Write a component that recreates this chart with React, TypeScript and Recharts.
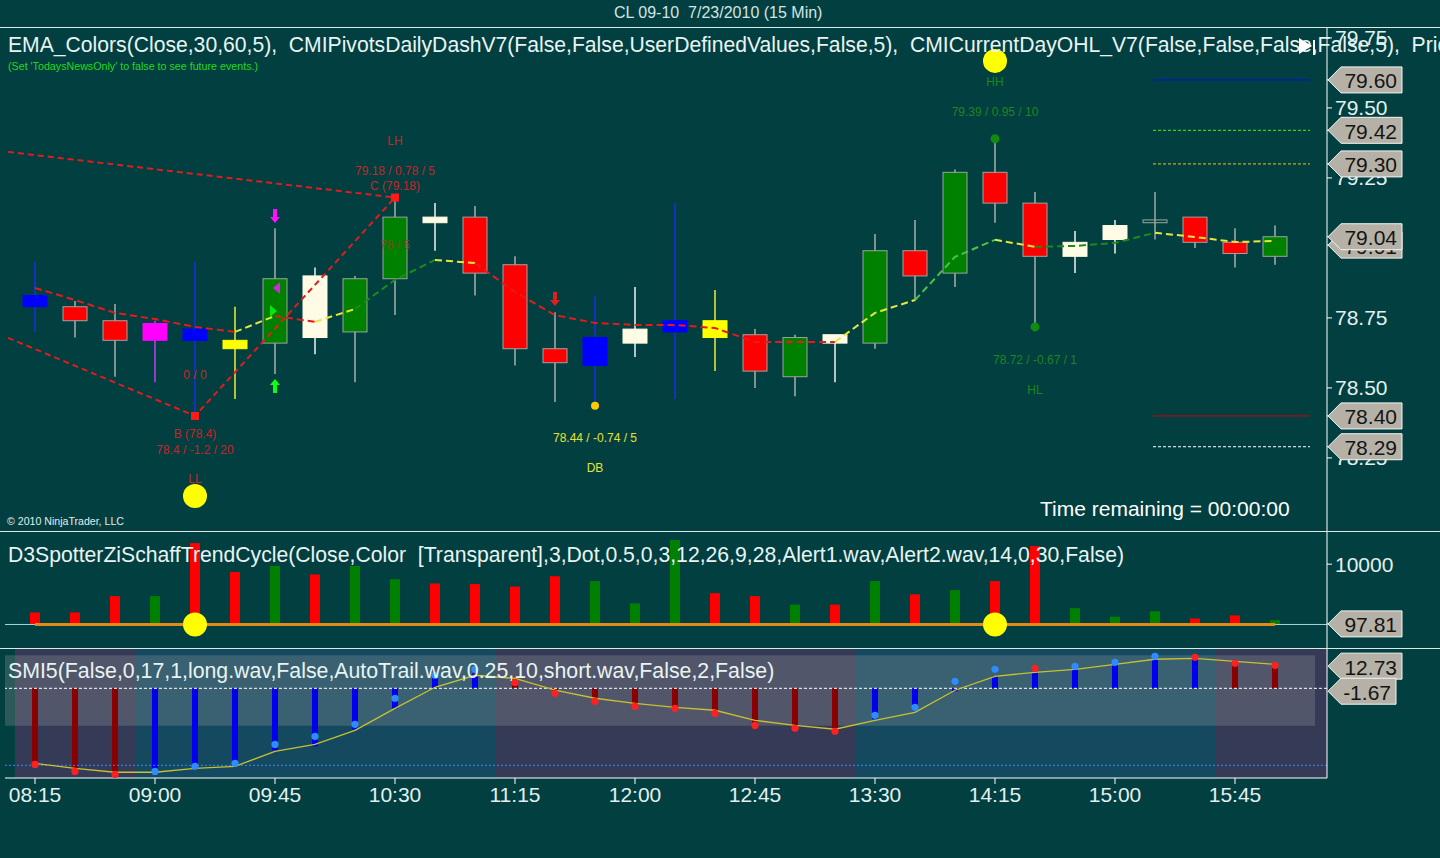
import React from 'react'
import {
  ComposedChart, Bar, Line, Scatter, XAxis, YAxis,
  ReferenceLine, ReferenceArea, Cell,
} from 'recharts'

const BG = '#023f40'
const FONT = '"Liberation Sans", Arial, sans-serif'
const AXIS_TEXT = '#e2f0f0'
const RULE = '#dde8e8'

// 15 minute bars, 7/23/2010
const times = [
  '08:15', '08:30', '08:45', '09:00', '09:15', '09:30', '09:45', '10:00',
  '10:15', '10:30', '10:45', '11:00', '11:15', '11:30', '11:45', '12:00',
  '12:15', '12:30', '12:45', '13:00', '13:15', '13:30', '13:45', '14:00',
  '14:15', '14:30', '14:45', '15:00', '15:15', '15:30', '15:45', '16:00',
]

const open = [
  78.83, 78.79, 78.74, 78.73, 78.71, 78.67, 78.66, 78.68, 78.70, 78.89, 79.09,
  79.11, 78.94, 78.64, 78.58, 78.66, 78.70, 78.74, 78.69, 78.54, 78.66, 78.66,
  78.99, 78.91, 79.27, 79.16, 78.97, 79.03, 79.09, 79.11, 79.02, 78.97,
]
const high = [
  78.95, 78.81, 78.80, 78.74, 78.95, 78.79, 79.07, 78.93, 78.90, 79.18, 79.16,
  79.15, 78.97, 78.77, 78.83, 78.86, 79.16, 78.85, 78.71, 78.69, 78.69, 79.05,
  79.10, 79.28, 79.39, 79.20, 79.06, 79.10, 79.20, 79.11, 79.07, 79.08,
]
const low = [
  78.70, 78.68, 78.54, 78.52, 78.40, 78.46, 78.55, 78.62, 78.52, 78.76, 78.99,
  78.83, 78.58, 78.45, 78.44, 78.61, 78.46, 78.56, 78.50, 78.47, 78.52, 78.64,
  78.81, 78.86, 79.09, 78.72, 78.91, 78.98, 79.03, 79.00, 78.93, 78.94,
]
const close = [
  78.79, 78.74, 78.67, 78.67, 78.67, 78.64, 78.89, 78.90, 78.89, 79.11, 79.11,
  78.91, 78.64, 78.59, 78.68, 78.71, 78.74, 78.68, 78.56, 78.68, 78.69, 78.99,
  78.90, 79.27, 79.16, 78.97, 79.02, 79.08, 79.10, 79.02, 78.98, 79.04,
]
const candleKind = [
  'blue', 'down', 'down', 'magenta', 'blue', 'yellow', 'up', 'inside', 'up', 'up', 'inside',
  'down', 'down', 'down', 'blue', 'inside', 'blue', 'yellow', 'down', 'up', 'inside', 'up',
  'down', 'up', 'down', 'down', 'inside', 'inside', 'doji', 'down', 'down', 'up',
]

// EMA_Colors line and the trend of each segment between bars
const ema = [
  78.857, 78.814, 78.768, 78.746, 78.718, 78.700, 78.757, 78.736, 78.782, 78.886, 78.957,
  78.946, 78.843, 78.760, 78.732, 78.725, 78.725, 78.714, 78.664, 78.664, 78.664, 78.768,
  78.814, 78.968, 79.029, 79.004, 79.007, 79.018, 79.054, 79.039, 79.021, 79.025,
]
const emaTrend = [
  'dn', 'dn', 'dn', 'dn', 'dn', 'flat', 'dn', 'flat', 'up', 'up', 'flat', 'dn', 'dn', 'dn',
  'dn', 'dn', 'dn', 'dn', 'dn', 'dn', 'flat', 'flat', 'upFast', 'upFast', 'flat', 'up',
  'up', 'up', 'flat', 'flat', 'flat',
]

// CMIPivots swing zigzag (x = bar index)
const zigTopX = [-0.675, 9]
const zigTopP = [79.343, 79.18]
const zigLowX = [-0.675, 4, 9]
const zigLowP = [78.679, 78.40, 79.18]
const pivotPointX = [4, 9]
const pivotPointP = [78.40, 79.18]

const annX = [9, 9, 9, 9, 4, 4, 4, 4, 14, 14, 24, 24, 25, 25]
const annP = [79.382, 79.275, 79.221, 79.011, 78.546, 78.336, 78.279, 78.175, 78.321, 78.214, 79.593, 79.486, 78.600, 78.493]
const annText = [
  'LH', '79.18 / 0.78 / 5', 'C (79.18)', '78 / 5', '0 / 0', 'B (78.4)', '78.4 / -1.2 / 20', 'LL',
  '78.44 / -0.74 / 5', 'DB', 'HH', '79.39 / 0.95 / 10', '78.72 / -0.67 / 1', 'HL',
]
const annTone = ['bear', 'bear', 'bear', 'faint', 'bear', 'bear', 'bear', 'bear', 'db', 'db', 'bull', 'bull', 'bull', 'bull']

const markX = [4, 24, 14, 24, 25]
const markP = [78.114, 79.668, 78.436, 79.39, 78.718]
const markKind = ['swing', 'swing', 'db', 'pivot', 'pivot']

const arrowX = [6, 6, 13, 6.05, 5.95]
const arrowP = [79.114, 78.507, 78.818, 78.857, 78.775]
const arrowKind = ['downMagenta', 'upGreen', 'downRed', 'leftMagenta', 'rightGreen']

// current day levels drawn on the right
const levelFrom = 27.95
const levelTo = 31.875
const levelP = [79.60, 79.42, 79.30, 78.40, 78.29]
const levelKind = ['blue', 'green', 'yellow', 'red', 'white']

const priceTicks = [78.25, 78.5, 78.75, 79.25, 79.5, 79.75]
const priceTags = [79.60, 79.42, 79.30, 79.01, 79.04, 78.40, 78.29]

// D3SpotterZiSchaffTrendCycle panel
const stcValues = [
  2000, 2000, 4700, 4700, 13500, 8700, 9700, 8300, 9700, 7500, 6800, 6700, 6300, 8000, 7200, 3500,
  14000, 5200, 4700, 3300, 3300, 7200, 5000, 5700, 7200, 13000, 2700, 1300, 2200, 1000, 1500, 700,
]
const stcSide = [
  'dn', 'dn', 'dn', 'up', 'dn', 'dn', 'up', 'dn', 'up', 'up', 'dn', 'dn', 'dn', 'dn', 'up', 'up',
  'up', 'dn', 'dn', 'up', 'dn', 'up', 'dn', 'up', 'dn', 'dn', 'up', 'up', 'up', 'dn', 'dn', 'up',
]
const stcSignalBars = [4, 24]
const stcTicks = [10000]
const stcTags = [97.81]

// SMI5 panel
const histValues = [
  -43.7, -47.7, -49.4, -47.7, -44.8, -43.1, -35.6, -33.3, -23.5, -11.5, 7.5, 8.6, 5.2, -2.9, -7.5, -10.3,
  -11.5, -14.4, -21.3, -23.0, -24.7, -17.8, -12.6, -1.7, 6.9, 9.2, 12.1, 14.4, 17.2, 17.2, 14.4, 12.6,
]
const histSide = [
  'dn', 'dn', 'dn', 'up', 'up', 'up', 'up', 'up', 'up', 'up', 'up', 'up', 'dn', 'dn', 'dn', 'dn',
  'dn', 'dn', 'dn', 'dn', 'dn', 'up', 'up', 'up', 'up', 'up', 'up', 'up', 'up', 'up', 'dn', 'dn',
]
const smiValues = [
  -43.7, -47.7, -49.4, -47.7, -44.8, -43.1, -32.2, -27.6, -20.7, -5.7, 7.5, 10.9, 3.4, -2.9, -7.5, -10.3,
  -11.5, -14.4, -21.3, -23.0, -24.7, -15.5, -10.9, 4.0, 10.9, 11.5, 12.6, 14.9, 18.4, 17.8, 14.4, 13.2,
]
const smiSide = [
  'dn', 'dn', 'dn', 'up', 'up', 'up', 'up', 'up', 'up', 'up', 'up', 'up', 'dn', 'dn', 'dn', 'dn',
  'dn', 'dn', 'dn', 'dn', 'dn', 'up', 'up', 'up', 'up', 'dn', 'up', 'up', 'up', 'dn', 'dn', 'dn',
]
const signalValues = [
  -43.1, -46.0, -48.2, -48.2, -46.0, -44.8, -36.2, -32.2, -24.1, -11.5, 0.6, 7.5, 5.7, -1.1, -5.7, -8.6,
  -10.9, -12.6, -18.4, -21.3, -23.5, -18.4, -13.8, -1.1, 6.9, 9.2, 10.9, 13.8, 16.7, 17.2, 15.5, 13.8,
]
const smiLongZones = [[2.5, 11.5], [20.5, 29.5]]
const smiBand = [-21.5, 19]
const smiLower = -44.2
const smiTags = [12.73, -1.67]

// ---- styles ----
const CANDLE_STYLE: Record<string, { fill: string; stroke: string; wick: string }> = {
  up: { fill: '#008000', stroke: '#9aa49a', wick: '#a8b0a8' },
  down: { fill: '#ff0000', stroke: '#a0a4a0', wick: '#a8b0a8' },
  inside: { fill: '#fffbe4', stroke: '#fffbe4', wick: '#f2f2f2' },
  blue: { fill: '#0000ff', stroke: '#0000ff', wick: '#1830e0' },
  magenta: { fill: '#ff00ff', stroke: '#ff00ff', wick: '#c040f0' },
  yellow: { fill: '#ffff00', stroke: '#ffff00', wick: '#f0f030' },
  doji: { fill: 'none', stroke: '#a0a8a0', wick: '#a0a8a0' },
}
const TREND_COLOR: Record<string, string> = {
  dn: '#e01c1c', flat: '#e8e83a', up: '#1a8c1a', upFast: '#4cc24c',
}
const TONE_COLOR: Record<string, string> = {
  bear: '#c42626', faint: '#9a3a2a', db: '#e6e232', bull: '#1e861e',
}
const LEVEL_STYLE: Record<string, { color: string; dash?: string }> = {
  blue: { color: '#0010e0' },
  green: { color: '#50f000', dash: '3 2' },
  yellow: { color: '#f0c800', dash: '3 2' },
  red: { color: '#d00000' },
  white: { color: '#ffffff', dash: '3 2' },
}

// category bands: bar i centred at 35 + 40 i; numeric axis spans the whole plot area
const BAND_PAD = { left: 10, right: 32 }
const NUM_DOMAIN = [-0.75, 32.3]
const CHART_MARGIN = { top: 0, right: 0, left: 5, bottom: 0 }
const TICK_SIZE = 5
const TICK_MARGIN = 3

// ---- derived tables ----
const emaRuns: { trend: string; from: number; to: number }[] = []
emaTrend.forEach((tr, s) => {
  const last = emaRuns[emaRuns.length - 1]
  if (last && last.trend === tr && last.to === s) last.to = s + 1
  else emaRuns.push({ trend: tr, from: s, to: s + 1 })
})

const priceRows = times.map((t, i) => {
  const row: Record<string, any> = {
    t, o: open[i], hi: high[i], lo: low[i], c: close[i], kind: candleKind[i],
    range: [low[i], high[i]],
  }
  emaRuns.forEach((r, k) => {
    row[`ema${k}`] = i >= r.from && i <= r.to ? ema[i] : null
  })
  return row
})

const zigTop = zigTopX.map((x, i) => ({ x, p: zigTopP[i] }))
const zigLow = zigLowX.map((x, i) => ({ x, p: zigLowP[i] }))
const pivotPoints = pivotPointX.map((x, i) => ({ x, p: pivotPointP[i] }))
const annotations = annX.map((x, i) => ({ x, p: annP[i], text: annText[i], tone: annTone[i] }))
const markers = markX.map((x, i) => ({ x, p: markP[i], kind: markKind[i] }))
const arrows = arrowX.map((x, i) => ({ x, p: arrowP[i], kind: arrowKind[i] }))

const stcRows = times.map((t, i) => ({
  t, stc: stcValues[i], side: stcSide[i], dot: stcSignalBars.includes(i) ? 0 : null,
}))

const smiRows = times.map((t, i) => ({
  t, hist: histValues[i], hside: histSide[i], smi: smiValues[i], sside: smiSide[i], signal: signalValues[i],
}))

// ---- shapes ----
function Candle(props: any) {
  const { x, y, width, height, payload } = props
  if (x == null || y == null || !payload) return <g />
  const top = Math.min(y, y + height)
  const h = Math.abs(height)
  const span = payload.hi - payload.lo || 1
  const toY = (p: number) => top + ((payload.hi - p) / span) * h
  const bodyTop = toY(Math.max(payload.o, payload.c))
  const bodyBot = toY(Math.min(payload.o, payload.c))
  const cx = x + width / 2
  const st = CANDLE_STYLE[payload.kind]
  return (
    <g>
      <line x1={cx} x2={cx} y1={top} y2={top + h} stroke={st.wick} strokeWidth={1.5} />
      <rect
        x={x} y={bodyTop} width={width} height={Math.max(1.5, bodyBot - bodyTop)}
        fill={st.fill} stroke={st.stroke} strokeWidth={1}
      />
    </g>
  )
}

function AnnotationText(props: any) {
  const { cx, cy, payload } = props
  if (cx == null || cy == null) return <g />
  return (
    <text
      x={cx} y={cy} textAnchor="middle" dominantBaseline="central"
      fontSize={12} fontFamily={FONT} fill={TONE_COLOR[payload.tone]}
      opacity={payload.tone === 'faint' ? 0.75 : 1}
    >
      {payload.text}
    </text>
  )
}

function Marker(props: any) {
  const { cx, cy, payload } = props
  if (cx == null || cy == null) return <g />
  if (payload.kind === 'swing') return <circle cx={cx} cy={cy} r={12} fill="#ffff00" />
  if (payload.kind === 'db') return <circle cx={cx} cy={cy} r={4} fill="#ffcc00" />
  return <circle cx={cx} cy={cy} r={4.5} fill="#108a10" />
}

function Arrow(props: any) {
  const { cx, cy, payload } = props
  if (cx == null || cy == null) return <g />
  const k = payload.kind as string
  if (k === 'leftMagenta') {
    return <polygon points={`${cx - 4},${cy} ${cx + 3},${cy - 6} ${cx + 3},${cy + 6}`} fill="#e020e0" />
  }
  if (k === 'rightGreen') {
    return <polygon points={`${cx + 4},${cy} ${cx - 3},${cy - 6} ${cx - 3},${cy + 6}`} fill="#10e010" />
  }
  const color = k === 'downMagenta' ? '#ff10ff' : k === 'upGreen' ? '#10ff10' : '#e02020'
  if (k === 'upGreen') {
    return (
      <g fill={color}>
        <polygon points={`${cx},${cy - 7} ${cx - 5},${cy - 1} ${cx + 5},${cy - 1}`} />
        <rect x={cx - 2} y={cy - 1} width={4} height={8} />
      </g>
    )
  }
  return (
    <g fill={color}>
      <rect x={cx - 2} y={cy - 7} width={4} height={8} />
      <polygon points={`${cx},${cy + 7} ${cx - 5},${cy + 1} ${cx + 5},${cy + 1}`} />
    </g>
  )
}

// right axis tick: plain labels first, then the value tags drawn on top of them
function AxisTick(props: any) {
  const { x, y, payload, index, plain, fmt } = props
  const text = fmt ? fmt(payload.value) : String(payload.value)
  if (index < plain) {
    return (
      <text
        x={x} y={y} dominantBaseline="central" textAnchor="start"
        fontSize={21} fontFamily={FONT} fill={AXIS_TEXT}
      >
        {text}
      </text>
    )
  }
  const x0 = x - TICK_SIZE - TICK_MARGIN + 1
  const w = text.startsWith('-') ? 68 : 74
  const h = 13
  return (
    <g>
      <polygon
        points={`${x0},${y} ${x0 + 13},${y - h} ${x0 + w},${y - h} ${x0 + w},${y + h} ${x0 + 13},${y + h}`}
        fill="#b6b1a6" stroke="#f4f4f4" strokeWidth={1}
      />
      <text
        x={x0 + w - 5} y={y + 1} textAnchor="end" dominantBaseline="central"
        fontSize={21} fontFamily={FONT} fill="#141414"
      >
        {text}
      </text>
    </g>
  )
}

function StcDot(props: any) {
  const { cx, cy, payload, index } = props
  if (cx == null || cy == null || payload?.dot == null) return <g key={`s${index}`} />
  return <circle key={`s${index}`} cx={cx} cy={cy} r={12} fill="#ffff00" />
}

function SmiDot(props: any) {
  const { cx, cy, payload, index } = props
  if (cx == null || cy == null) return <g key={`d${index}`} />
  return (
    <circle
      key={`d${index}`} cx={cx} cy={cy} r={3.6}
      fill={payload.sside === 'dn' ? '#ff2020' : '#2f8cff'}
    />
  )
}

const fmtPrice = (v: number) => v.toFixed(2)

function PriceChart() {
  return (
    <ComposedChart width={1440} height={504} data={priceRows} margin={CHART_MARGIN}>
      <XAxis xAxisId="c" dataKey="t" type="category" hide padding={BAND_PAD} />
      <XAxis xAxisId="n" dataKey="x" type="number" hide domain={NUM_DOMAIN} allowDataOverflow />
      <YAxis
        orientation="right" width={113} domain={[77.989, 79.789]} allowDataOverflow
        ticks={[...priceTicks, ...priceTags]} interval={0}
        tick={<AxisTick plain={priceTicks.length} fmt={fmtPrice} />}
        tickSize={TICK_SIZE} tickMargin={TICK_MARGIN}
        tickLine={{ stroke: '#ffffff' }} axisLine={{ stroke: '#ffffff' }}
      />
      <Bar xAxisId="c" dataKey="range" barSize={24} shape={<Candle />} isAnimationActive={false} />
      {emaRuns.map((r, k) => (
        <Line
          key={`ema${k}`} xAxisId="c" dataKey={`ema${k}`} stroke={TREND_COLOR[r.trend]}
          strokeWidth={2} strokeDasharray="7 4" dot={false} connectNulls={false}
          isAnimationActive={false}
        />
      ))}
      <Line
        xAxisId="n" data={zigTop} dataKey="p" stroke="#e01c1c" strokeWidth={2}
        strokeDasharray="6 4" dot={false} isAnimationActive={false}
      />
      <Line
        xAxisId="n" data={zigLow} dataKey="p" stroke="#e01c1c" strokeWidth={2}
        strokeDasharray="6 4" dot={false} isAnimationActive={false}
      />
      {levelP.map((p, i) => (
        <Line
          key={`lv${i}`} xAxisId="n" data={[{ x: levelFrom, p }, { x: levelTo, p }]} dataKey="p"
          stroke={LEVEL_STYLE[levelKind[i]].color} strokeWidth={1}
          strokeDasharray={LEVEL_STYLE[levelKind[i]].dash} dot={false} isAnimationActive={false}
        />
      ))}
      <Scatter
        xAxisId="n" data={pivotPoints} dataKey="p" isAnimationActive={false}
        shape={(p: any) => <rect x={p.cx - 4} y={p.cy - 4} width={8} height={8} fill="#ff1a1a" />}
      />
      <Scatter xAxisId="n" data={markers} dataKey="p" shape={<Marker />} isAnimationActive={false} />
      <Scatter xAxisId="n" data={arrows} dataKey="p" shape={<Arrow />} isAnimationActive={false} />
      <Scatter xAxisId="n" data={annotations} dataKey="p" shape={<AnnotationText />} isAnimationActive={false} />
    </ComposedChart>
  )
}

function StcChart() {
  return (
    <ComposedChart width={1440} height={117} data={stcRows} margin={CHART_MARGIN}>
      <XAxis xAxisId="c" dataKey="t" type="category" hide padding={BAND_PAD} />
      <YAxis
        orientation="right" width={113} domain={[-3900, 15500]} allowDataOverflow
        ticks={[...stcTicks, ...stcTags]} interval={0}
        tick={<AxisTick plain={stcTicks.length} fmt={(v: number) => (v >= 1000 ? String(v) : v.toFixed(2))} />}
        tickSize={TICK_SIZE} tickMargin={TICK_MARGIN}
        tickLine={{ stroke: '#ffffff' }} axisLine={{ stroke: '#ffffff' }}
      />
      <ReferenceLine xAxisId="c" y={0} stroke="#a6d6e4" strokeWidth={1} />
      <Bar xAxisId="c" dataKey="stc" barSize={10} isAnimationActive={false}>
        {stcRows.map((r, i) => (
          <Cell key={i} fill={r.side === 'dn' ? '#ff0000' : '#008000'} />
        ))}
      </Bar>
      <ReferenceLine
        xAxisId="c"
        segment={[{ x: times[0], y: 0 }, { x: times[times.length - 1], y: 0 }]}
        stroke="#e08a18" strokeWidth={3}
      />
      <Line
        xAxisId="c" dataKey="dot" stroke="none" dot={StcDot} activeDot={false}
        isAnimationActive={false}
      />
    </ComposedChart>
  )
}

function SmiChart() {
  return (
    <ComposedChart width={1440} height={180} data={smiRows} margin={CHART_MARGIN}>
      <XAxis
        xAxisId="c" dataKey="t" type="category" padding={BAND_PAD} interval={2} height={50}
        tick={{ fill: AXIS_TEXT, fontSize: 21, fontFamily: FONT }} tickSize={6} tickMargin={3}
        tickLine={{ stroke: '#ffffff' }} axisLine={{ stroke: '#ffffff' }}
      />
      <XAxis xAxisId="n" dataKey="x" type="number" hide domain={NUM_DOMAIN} allowDataOverflow />
      <YAxis
        orientation="right" width={113} domain={[-51.5, 23.15]} allowDataOverflow
        ticks={smiTags} interval={0}
        tick={<AxisTick plain={0} fmt={fmtPrice} />}
        tickSize={TICK_SIZE} tickMargin={TICK_MARGIN}
        tickLine={false} axisLine={{ stroke: '#ffffff' }}
      />
      <ReferenceArea xAxisId="n" x1={-0.5} x2={32.3} fill="#353a56" fillOpacity={1} ifOverflow="visible" />
      {smiLongZones.map(([a, b], i) => (
        <ReferenceArea
          key={`z${i}`} xAxisId="n" x1={a} x2={b} fill="#14495f" fillOpacity={1} ifOverflow="visible"
        />
      ))}
      <ReferenceArea
        xAxisId="n" x1={-0.75} x2={32} y1={smiBand[0]} y2={smiBand[1]}
        fill="#a8a8a8" fillOpacity={0.26} ifOverflow="visible"
      />
      <ReferenceLine xAxisId="c" y={0} stroke="#ffffff" strokeDasharray="3 2" />
      <ReferenceLine xAxisId="c" y={smiLower} stroke="#2f8cff" strokeDasharray="2 2" />
      <Bar xAxisId="c" dataKey="hist" barSize={6} isAnimationActive={false}>
        {smiRows.map((r, i) => (
          <Cell key={i} fill={r.hside === 'dn' ? '#8a0000' : '#0000ee'} />
        ))}
      </Bar>
      <Line
        xAxisId="c" dataKey="signal" stroke="#c8c030" strokeWidth={1.3} dot={false}
        activeDot={false} isAnimationActive={false}
      />
      <Line
        xAxisId="c" dataKey="smi" stroke="none" dot={SmiDot} activeDot={false}
        isAnimationActive={false}
      />
    </ComposedChart>
  )
}

function Txt(props: { x: number; y: number; size: number; color: string; children: React.ReactNode }) {
  return (
    <div
      style={{
        position: 'absolute', left: props.x, top: props.y, fontSize: props.size,
        color: props.color, whiteSpace: 'pre', lineHeight: 1, fontFamily: FONT,
      }}
    >
      {props.children}
    </div>
  )
}

export default function App() {
  const hline = (y: number) => (
    <div style={{ position: 'absolute', left: 0, top: y, width: 1440, height: 1, background: RULE }} />
  )
  return (
    <div
      style={{
        position: 'absolute', left: 0, top: 0, width: 1440, height: 858,
        background: BG, overflow: 'hidden', fontFamily: FONT,
      }}
    >
      <div style={{ position: 'absolute', left: 0, top: 27 }}><PriceChart /></div>
      <div style={{ position: 'absolute', left: 0, top: 531 }}><StcChart /></div>
      <div style={{ position: 'absolute', left: 0, top: 648 }}><SmiChart /></div>
      {hline(27)}
      {hline(531)}
      {hline(648)}

      <Txt x={614} y={5} size={16} color="#d4e4e4">CL 09-10  7/23/2010 (15 Min)</Txt>
      <Txt x={8} y={34} size={21.15} color="#e8f4f4">
        EMA_Colors(Close,30,60,5),  CMIPivotsDailyDashV7(False,False,UserDefinedValues,False,5),  CMICurrentDayOHL_V7(False,False,False,False,5),  Pric
      </Txt>
      <Txt x={8} y={61} size={10.7} color="#22d822">(Set 'TodaysNewsOnly' to false to see future events.)</Txt>
      <Txt x={7} y={516} size={10.6} color="#e4ecec">© 2010 NinjaTrader, LLC</Txt>
      <Txt x={1040} y={498} size={21} color="#ffffff">Time remaining = 00:00:00</Txt>
      <Txt x={8} y={544} size={21.2} color="#e8f4f4">
        D3SpotterZiSchaffTrendCycle(Close,Color  [Transparent],3,Dot,0.5,0,3,12,26,9,28,Alert1.wav,Alert2.wav,14,0,30,False)
      </Txt>
      <Txt x={8} y={661} size={21.3} color="#e8f4f4">
        SMI5(False,0,17,1,long.wav,False,AutoTrail.wav,0.25,10,short.wav,False,2,False)
      </Txt>
      <svg style={{ position: 'absolute', left: 1298, top: 37 }} width={20} height={20}>
        <polygon points="1,1 14,9 1,17" fill="#ffffff" />
        <rect x={15} y={3} width={2} height={15} fill="#ffffff" />
      </svg>
    </div>
  )
}
